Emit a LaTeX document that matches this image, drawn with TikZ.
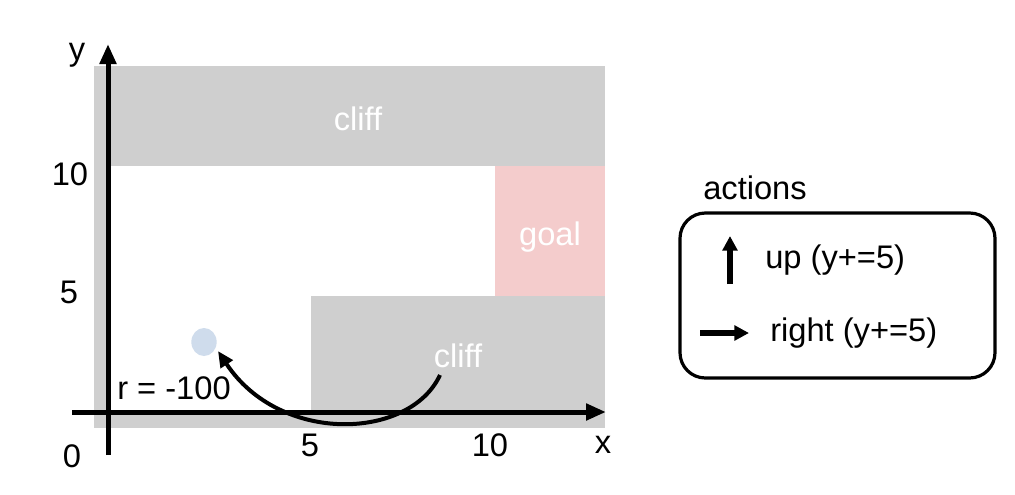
\documentclass[tikz,border=0pt]{standalone}
\usepackage{fontspec}
\setmainfont{Liberation Sans}
\usepackage{tikz}
\usetikzlibrary{arrows.meta,shapes.geometric}
\definecolor{cliffgray}{RGB}{207,207,207}
\definecolor{goalpink}{RGB}{244,204,204}
\definecolor{agentblue}{RGB}{207,220,236}

\begin{document}
\begin{tikzpicture}[x=0.75pt,y=-0.75pt,
    lbl/.style={font=\fontsize{24.5pt}{29pt}\selectfont,inner sep=0pt},
    axis/.style={line width=3.75pt,-{Triangle[length=15pt,width=12pt]}},
    act/.style={line width=4pt,-{Triangle[length=11pt,width=11pt]}}]
     \useasboundingbox (0,0) rectangle (1015,494);
     % grid world
     \fill[cliffgray] (94,66) rectangle (605,428);
     \fill[white]     (110,166) rectangle (495,412);
     \fill[cliffgray] (311,296) rectangle (605,412);
     \fill[goalpink]  (495,166) rectangle (605,296);
     % axes
     \coordinate (xstart) at (72,412);
     \coordinate (xend)   at (606,412);
     \coordinate (ystart) at (108,455);
     \coordinate (yend)   at (108,44);
     \draw[axis] (xstart) -- (xend);
     \draw[axis] (ystart) -- (yend);
     \node[lbl,anchor=base] (ylab)  at ( 77, 60) {y};
     \node[lbl,anchor=base] (xlab)  at (603,453) {x};
     \node[lbl,anchor=base] (ten)   at ( 70,185) {10};
     \node[lbl,anchor=base] (five)  at ( 69,303) {5};
     \node[lbl,anchor=base] (zero)  at ( 72,467) {0};
     \node[lbl,anchor=base] (xfive) at (310,456) {5};
     \node[lbl,anchor=base] (xten)  at (490,456) {10};
     % regions
     \node[lbl,anchor=base,white] (cliffup) at (358,130) {cliff};
     \node[lbl,anchor=base,white] (goal)    at (550,245) {goal};
     \node[lbl,anchor=base,white] (cliffdn) at (458,367) {cliff};
     \node[lbl,anchor=base west] (reward) at (117,399) {r = -100};
     % agent and jump back
     \node[ellipse,fill=agentblue,inner sep=0pt,minimum width=19pt,
           minimum height=21pt] (agent) at (204,342) {};
     \coordinate (fall) at (440,375);
     \coordinate (land) at (218,351);
     \draw[line width=3pt,-{Triangle[length=12pt,width=10.5pt]}]
      (fall) .. controls (410,440) and (280,445) .. (land);
     % actions
     \node[lbl,anchor=base] (actions) at (755,199) {actions};
     \draw[line width=2.4pt,rounded corners=19pt] (680,213) rectangle (995,378);
     \coordinate (upfrom) at (730,284);
     \coordinate (upto)   at (730,236);
     \coordinate (rtfrom) at (700,333);
     \coordinate (rtto)   at (749,333);
     \draw[act] (upfrom) -- (upto);
     \draw[act] (rtfrom) -- (rtto);
     \node[lbl,anchor=base west] (up)    at (765,268) {up (y+=5)};
     \node[lbl,anchor=base west] (right) at (770,341) {right (y+=5)};
    \end{tikzpicture}
\end{document}
